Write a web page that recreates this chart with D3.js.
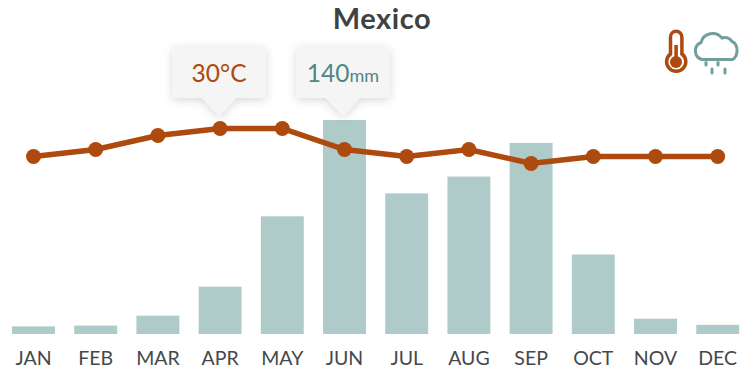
<!DOCTYPE html>
<html>
<head>
<meta charset="utf-8">
<script src="https://cdn.jsdelivr.net/npm/d3@7"></script>
<style>
    html, body { margin: 0; padding: 0; background: #fff; }
    text { font-family: Lato, "Open Sans", sans-serif; }
</style>
</head>
<body>
<div id="chart"></div>
<script>
// Declare constants.
const MONTHS = ['JAN', 'FEB', 'MAR', 'APR', 'MAY', 'JUN', 'JUL', 'AUG', 'SEP', 'OCT', 'NOV', 'DEC'];
const RAINFALL = [5, 5.5, 12, 31, 77, 140, 92, 103, 125, 52, 10, 6];
const TEMPERATURE = [26, 27, 29, 30, 30, 27, 26, 27, 25, 26, 26, 26];
const TITLE = 'Mexico';
const TEMP_MONTH = 'APR';
const RAIN_MONTH = 'JUN';

const width = 750, height = 373;
const RUST = '#ae4a0e', BAR = '#aecac9', TEAL = '#508683', ICON = '#6f9f9e';

const svg = d3.select('#chart').append('svg')
    .attr('width', width)
    .attr('height', height)
    .style('display', 'block');

const defs = svg.append('defs');
defs.append('filter').attr('id', 'tip-shadow')
    .attr('x', '-30%').attr('y', '-30%').attr('width', '160%').attr('height', '160%')
    .append('feDropShadow')
    .attr('dx', 0).attr('dy', 2).attr('stdDeviation', 5)
    .attr('flood-color', '#000').attr('flood-opacity', 0.16);

const xScale = d3.scaleBand().domain(MONTHS).range([2.4, 748.8]).paddingInner(0.31).paddingOuter(0.155);
const yRain = d3.scaleLinear().domain([0, 140]).range([334, 120]);
const yTemp = d3.scaleLinear().domain([25, 30]).range([163.5, 128.5]);
const cx = m => xScale(m) + xScale.bandwidth() / 2;

svg.append('text')
    .attr('x', 382)
    .attr('y', 29)
    .attr('text-anchor', 'middle')
    .attr('font-size', 29)
    .attr('font-weight', 700)
    .attr('letter-spacing', 0.6)
    .attr('fill', '#3f4243')
    .text(TITLE);

// Bars.
svg.selectAll('.bar')
    .data(RAINFALL)
    .join('rect')
    .attr('class', 'bar')
    .attr('x', (_, i) => xScale(MONTHS[i]))
    .attr('y', d => yRain(d))
    .attr('width', xScale.bandwidth())
    .attr('height', d => yRain(0) - yRain(d))
    .attr('fill', BAR);

// Month axis, domain and ticks removed.
svg.append('g')
    .attr('transform', 'translate(0,351.5)')
    .call(d3.axisBottom(xScale).tickSize(0).tickPadding(0))
    .call(g => g.select('.domain').remove())
    .call(g => g.selectAll('text')
        .attr('font-size', 19.5)
        .attr('fill', '#45484a')
        .style('font-family', 'Lato, "Open Sans", sans-serif'));

// Temperature line.
const line = d3.line()
    .x((_, i) => cx(MONTHS[i]))
    .y(d => yTemp(d));

svg.append('path')
    .datum(TEMPERATURE)
    .attr('d', line)
    .attr('fill', 'none')
    .attr('stroke', RUST)
    .attr('stroke-width', 5.5);

svg.selectAll('.dot')
    .data(TEMPERATURE)
    .join('circle')
    .attr('class', 'dot')
    .attr('cx', (_, i) => cx(MONTHS[i]))
    .attr('cy', d => yTemp(d))
    .attr('r', 7.5)
    .attr('fill', RUST);

// Helper for the callout boxes: tip is the point of the arrow.
const drawTip = (tipX, tipY) => {
    const w = 93, h = 51, arrow = 18;
    const left = tipX - w / 2, top = tipY - arrow - h;
    const g = svg.append('g');
    g.append('path')
        .attr('d', `M${left},${top}h${w}v${h}h${-(w / 2 - 17)}L${tipX},${tipY}L${tipX - 17},${top + h}H${left}Z`)
        .attr('fill', '#f5f5f5')
        .attr('filter', 'url(#tip-shadow)');
    return g.append('text')
        .attr('x', tipX)
        .attr('y', top + 35)
        .attr('text-anchor', 'middle');
};

const tempIdx = MONTHS.indexOf(TEMP_MONTH);
drawTip(cx(TEMP_MONTH) - 1, yTemp(TEMPERATURE[tempIdx]) - 12.5)
    .attr('font-size', 24.5)
    .attr('fill', RUST)
    .text(`${TEMPERATURE[tempIdx]}°C`);

const rainIdx = MONTHS.indexOf(RAIN_MONTH);
const rainTip = drawTip(cx(RAIN_MONTH) - 1.5, yRain(RAINFALL[rainIdx]) - 4)
    .attr('font-size', 24.5)
    .attr('fill', TEAL);
rainTip.append('tspan').text(RAINFALL[rainIdx]);
rainTip.append('tspan').attr('font-size', 18).text('mm');

// Thermometer icon.
const thermo = svg.append('g').attr('fill', 'none').attr('stroke', RUST);
thermo.append('path')
    .attr('d', 'M670.5,54V37a5.7,5.7 0 0 1 11.4,0V54a9.6,9.6 0 1 1 -11.4,0Z')
    .attr('stroke-width', 3.5);
thermo.append('circle').attr('cx', 676).attr('cy', 62).attr('r', 6).attr('fill', RUST).attr('stroke', 'none');
thermo.append('rect').attr('x', 674.3).attr('y', 45).attr('width', 3.6).attr('height', 15).attr('fill', RUST).attr('stroke', 'none');

// Rain cloud icon.
const cloud = svg.append('g').attr('fill', 'none').attr('stroke', ICON).attr('stroke-width', 3).attr('stroke-linecap', 'round');
cloud.append('path')
    .attr('d', 'M702,59.5H730a6,9 0 0 0 2,-18a8,8 0 0 0 -10,-3.5a12,12 0 0 0 -21,4.5a9,9 0 0 0 1,17Z');
[[706, 62.5, 65], [718, 62.5, 65], [712, 69, 73], [725, 69, 73]].forEach(d => {
    cloud.append('line').attr('x1', d[0]).attr('x2', d[0]).attr('y1', d[1]).attr('y2', d[2]);
});
</script>
</body>
</html>
